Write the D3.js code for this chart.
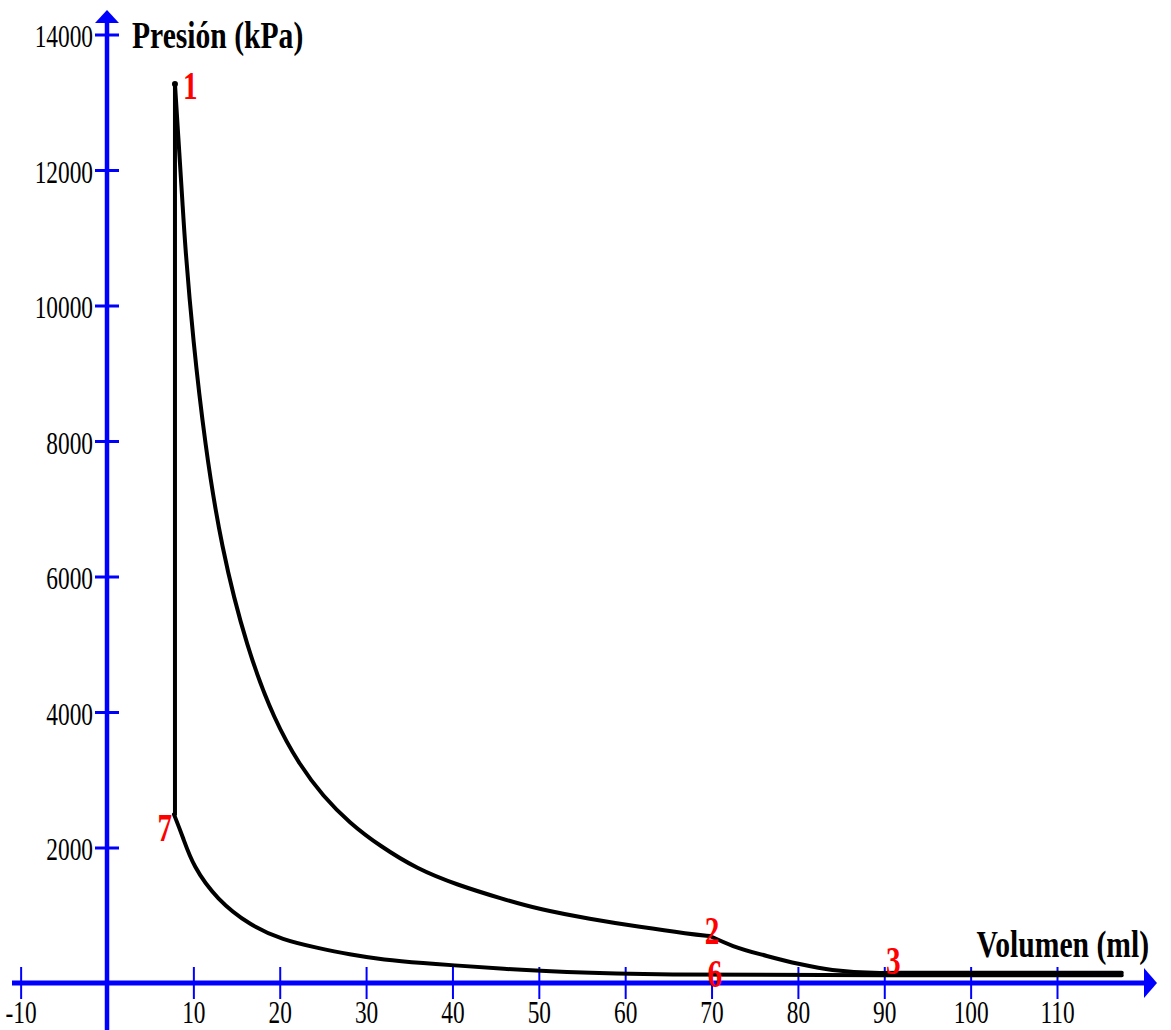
<!DOCTYPE html>
<html>
<head>
<meta charset="utf-8">
<script src="https://cdn.jsdelivr.net/npm/d3@7"></script>
<style>
  body { margin: 0; background: #fff; }
  text { font-family: "Liberation Serif", "Times New Roman", serif; }
</style>
</head>
<body>
<div id="chart"></div>
<script>
// Data (volume in ml, pressure in kPa)
var combVol = [7.87, 7.87];
var combPres = [2490, 13270];

var expVol  = [7.87, 8.4, 8.75, 9.03, 9.95, 11.34, 13.19, 16.2, 19.44, 22.34, 25.0, 28.1, 31.6, 35.9, 40.5, 45.8, 50.1, 55.9, 61.7, 67.5, 69.8];
var expPres = [13270, 12200, 11500, 10900, 9500, 7950, 6450, 4930, 3860, 3210, 2760, 2360, 2022, 1683, 1450, 1240, 1085, 945, 827, 723, 694];

var blowVol  = [69.8, 72.5, 76.4, 80.2, 84.0, 89.5, 92.9, 117.5];
var blowPres = [694, 546, 399, 280, 192, 148, 150, 150];

var compVol  = [7.75, 8.8, 9.95, 12.73, 16.55, 20.37, 24.3, 28.1, 31.9, 37.0, 39.7, 45.8, 52.8, 62.6, 90, 117.5];
var compPres = [2490, 2150, 1727, 1230, 850, 635, 520, 420, 345, 290, 266, 207, 162, 120, 115, 115];

var xTicks = [-10, 10, 20, 30, 40, 50, 60, 70, 80, 90, 100, 110];
var yTicks = [2000, 4000, 6000, 8000, 10000, 12000, 14000];

var pointNames = ["1", "2", "3", "6", "7"];
var pointVol   = [7.87, 69.8, 89.5, 70, 7.87];
var pointPres  = [13270, 694, 148, 115, 2490];

var svgWidth = 1171;
var svgHeight = 1030;

var svg = d3.select("#chart")
  .append("svg")
  .attr("width", svgWidth)
  .attr("height", svgHeight)
  .style("background", "#fff");

var x = d3.scaleLinear().domain([0, 110]).range([107, 1057]);
var y = d3.scaleLinear().domain([0, 14000]).range([983, 34.5]);

var blue = "#0000ff";
var sx = 0.73; // condensed look of the labels

// x axis ticks + labels
var xAxis = svg.append("g")
  .attr("transform", `translate(0, ${y(0)})`)
  .call(d3.axisBottom(x).tickValues(xTicks).tickSize(16).tickFormat(d => String(d)));
xAxis.select(".domain").remove();
xAxis.selectAll(".tick line")
  .attr("y1", -16).attr("y2", 16)
  .attr("stroke", blue).attr("stroke-width", 2);
xAxis.selectAll(".tick text")
  .attr("y", 40).attr("dy", 0)
  .attr("fill", "#000")
  .style("font-size", "32px")
  .attr("transform", `scale(${sx},1)`);

// y axis ticks + labels
var yAxis = svg.append("g")
  .attr("transform", `translate(${x(0)}, 0)`)
  .call(d3.axisLeft(y).tickValues(yTicks).tickSize(12).tickFormat(d3.format("d")));
yAxis.select(".domain").remove();
yAxis.selectAll(".tick line")
  .attr("x1", -12).attr("x2", 12)
  .attr("stroke", blue).attr("stroke-width", 3);
yAxis.selectAll(".tick text")
  .attr("x", -14 / sx).attr("y", 12).attr("dy", 0)
  .attr("fill", "#000")
  .style("font-size", "32px")
  .attr("transform", `scale(${sx},1)`);

// axis lines with arrows
svg.append("line")
  .attr("x1", 12).attr("x2", 1146)
  .attr("y1", y(0)).attr("y2", y(0))
  .attr("stroke", blue).attr("stroke-width", 5);
svg.append("path")
  .attr("d", `M1144,${y(0) - 15}L1157,${y(0)}L1144,${y(0) + 15}Z`)
  .attr("fill", blue);

svg.append("line")
  .attr("x1", x(0)).attr("x2", x(0))
  .attr("y1", 1030).attr("y2", 22)
  .attr("stroke", blue).attr("stroke-width", 4.5);
svg.append("path")
  .attr("d", `M${x(0) - 12},23L${x(0)},10L${x(0) + 12},23Z`)
  .attr("fill", blue);

// axis titles (condensed bold serif)
var tx = 0.8;
svg.append("text")
  .attr("transform", `translate(132,48) scale(${tx},1)`)
  .style("font-size", "37px").style("font-weight", "bold")
  .text("Presión (kPa)");

svg.append("text")
  .attr("transform", `translate(1149,957) scale(${tx},1)`)
  .attr("text-anchor", "end")
  .style("font-size", "37px").style("font-weight", "bold")
  .text("Volumen (ml)");

// cycle curves
function zip(a, b) { return a.map((v, i) => [v, b[i]]); }

var smooth = d3.line()
  .x(d => x(d[0]))
  .y(d => y(d[1]))
  .curve(d3.curveBasis);

var monotone = d3.line()
  .x(d => x(d[0]))
  .y(d => y(d[1]))
  .curve(d3.curveMonotoneX);

var straight = d3.line()
  .x(d => x(d[0]))
  .y(d => y(d[1]));

var curves = svg.append("g")
  .attr("fill", "none")
  .attr("stroke", "#000")
  .attr("stroke-width", 4)
  .attr("stroke-linejoin", "round")
  .attr("stroke-linecap", "round");

curves.append("path").attr("d", straight(zip(combVol, combPres)));
curves.append("path").attr("d", smooth(zip(expVol, expPres)));
curves.append("path").attr("d", monotone(zip(blowVol, blowPres)));
curves.append("path").attr("d", smooth(zip(compVol, compPres)));

svg.append("circle")
  .attr("cx", x(combVol[1])).attr("cy", y(combPres[1]))
  .attr("r", 3).attr("fill", "#000");

// red point numbers
var offsets = { "1": [8, 15, "start"], "2": [-5, 8, "start"], "3": [6, 1, "start"], "6": [-4, 12, "start"], "7": [-3, 27, "end"] };

pointNames.forEach(function(name, i) {
  var o = offsets[name];
  var px = x(pointVol[i]) + o[0];
  var py = y(pointPres[i]) + o[1];
  svg.append("text")
    .attr("transform", `translate(${px},${py}) scale(${sx},1)`)
    .attr("text-anchor", o[2])
    .attr("fill", "#ff0000")
    .style("font-size", "40px")
    .style("font-weight", "bold")
    .text(name);
});
</script>
</body>
</html>
